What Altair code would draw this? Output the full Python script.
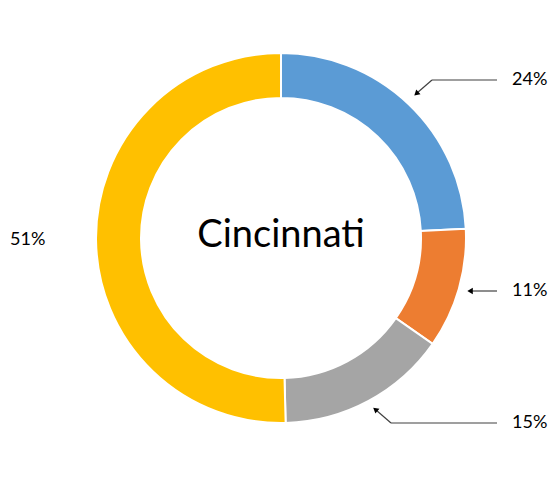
import altair as alt
import pandas as pd

# ---- data ----
categories = ["A", "B", "C", "D"]
values = [24.2, 10.5, 14.9, 50.4]
labels = ["24%", "11%", "15%", "51%"]
colors = ["#5B9BD5", "#ED7D31", "#A5A5A5", "#FFC000"]
center_title = "Cincinnati"

# ---- layout (pixel positions, chart coords) ----
CX, CY = 273, 230
R_OUT, R_IN = 185, 140
label_x = [504, 504, 504, 2]
label_y = [72, 283, 415, 232]
seg_x = [489, 424, 489, 489, 383]
seg_y = [72, 72, 283, 415, 415]
seg_x2 = [424, 409, 462, 383, 368]
seg_y2 = [72, 85, 283, 415, 402]
arrow_x = [409, 463, 368]
arrow_y = [85, 283, 402]
arrow_angle = [228, 270, 310]

df = pd.DataFrame({"cat": categories, "value": values, "order": range(len(values))})

donut = alt.Chart(df).mark_arc(innerRadius=R_IN, outerRadius=R_OUT, stroke="white", strokeWidth=2).encode(
    theta=alt.Theta("value:Q", stack=True),
    order=alt.Order("order:Q"),
    color=alt.Color("cat:N", scale=alt.Scale(domain=categories, range=colors), legend=None),
    x=alt.value(CX), y=alt.value(CY),
)

title = alt.Chart(pd.DataFrame({"t": [center_title]})).mark_text(
    font="Lato", fontSize=38, color="black", align="center", baseline="middle"
).encode(text="t:N", x=alt.value(CX), y=alt.value(CY - 2))

lab_df = pd.DataFrame({"label": labels, "x": label_x, "y": label_y})
labs = alt.Chart(lab_df).mark_text(
    font="Lato", fontSize=18, color="black", align="left", baseline="middle"
).encode(text="label:N", x=alt.X("x:Q", scale=None), y=alt.Y("y:Q", scale=None))

seg_df = pd.DataFrame({"x": seg_x, "y": seg_y, "x2": seg_x2, "y2": seg_y2})
segs = alt.Chart(seg_df).mark_rule(color="#404040", strokeWidth=1.2).encode(
    x=alt.X("x:Q", scale=None), y=alt.Y("y:Q", scale=None), x2="x2:Q", y2="y2:Q"
)

arr_df = pd.DataFrame({"x": arrow_x, "y": arrow_y, "a": arrow_angle})
arrows = alt.Chart(arr_df).mark_point(shape="triangle", filled=True, size=40, color="black", opacity=1).encode(
    x=alt.X("x:Q", scale=None), y=alt.Y("y:Q", scale=None),
    angle=alt.Angle("a:Q", scale=None),
)

chart = alt.layer(donut, title, segs, arrows, labs).properties(
    width=540, height=481, autosize=alt.AutoSizeParams(type="none"), padding=0
).configure_view(stroke=None)

chart.save("out.html", embed_options={"renderer": "svg", "actions": False})
